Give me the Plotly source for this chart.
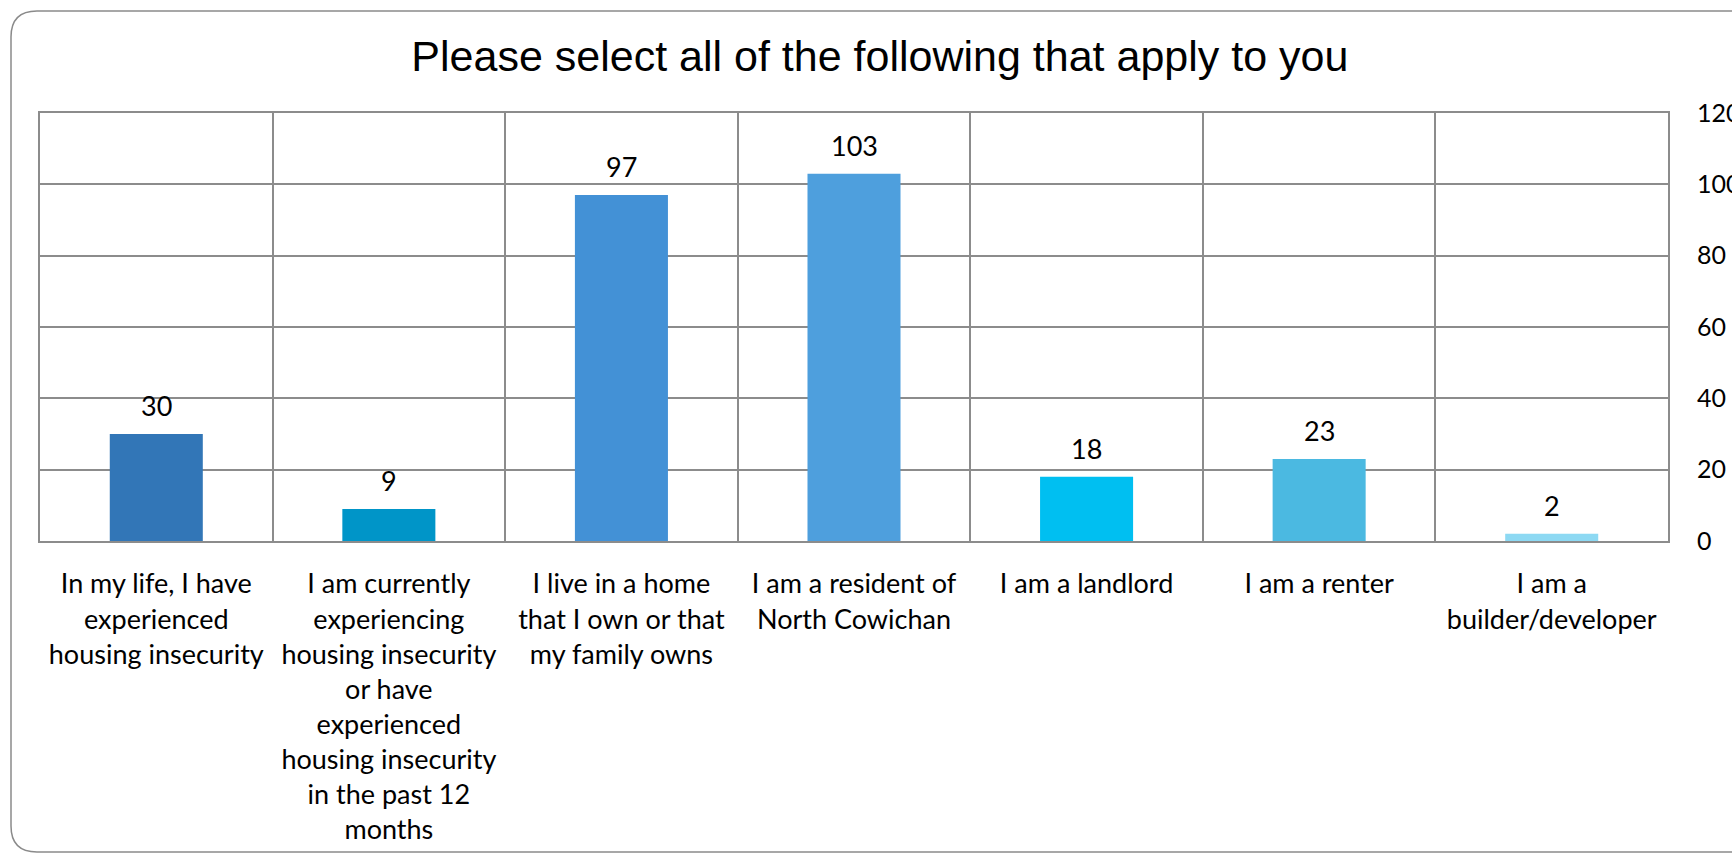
import plotly.graph_objects as go

categories = [
    "In my life, I have<br>experienced<br>housing insecurity",
    "I am currently<br>experiencing<br>housing insecurity<br>or have<br>experienced<br>housing insecurity<br>in the past 12<br>months",
    "I live in a home<br>that I own or that<br>my family owns",
    "I am a resident of<br>North Cowichan",
    "I am a landlord",
    "I am a renter",
    "I am a<br>builder/developer",
]
values = [30, 9, 97, 103, 18, 23, 2]
bar_colors = ["#3276B7", "#0095C8", "#4391D6", "#4E9FDD", "#00BFF1", "#4BB9E1", "#8DD9F3"]
y_ticks = [0, 20, 40, 60, 80, 100, 120]
title_text = "Please select all of the following that apply to you"

W, H = 1732, 855
ML, MR, MT, MB = 40, 64, 113, 314
PW, PH = W - ML - MR, H - MT - MB

def px(x):
    return (x - ML) / PW

def py(y):
    return (H - MB - y) / PH

grid = "#8C8C8C"

fig = go.Figure()
fig.add_trace(go.Bar(
    x=categories, y=values, marker=dict(color=bar_colors, line=dict(width=0)),
    width=0.4, hoverinfo="skip",
))

for c, v in zip(categories, values):
    fig.add_annotation(x=c, y=v, text=str(v), showarrow=False, yanchor="bottom",
                       yshift=10, font=dict(family="Lato", size=27, color="#000000"))

# rounded chart-area border
x0, y0, x1, y1, r = 11, 11, 1760, 852, 26
path = (f"M {px(x0)},{py(y0 + r)} Q {px(x0)},{py(y0)} {px(x0 + r)},{py(y0)} "
        f"L {px(x1)},{py(y0)} L {px(x1)},{py(y1)} L {px(x0 + r)},{py(y1)} "
        f"Q {px(x0)},{py(y1)} {px(x0)},{py(y1 - r)} Z")
fig.add_shape(type="path", path=path, xref="paper", yref="paper",
              line=dict(color="#8A8A8A", width=1.5), layer="below")

fig.update_layout(
    width=W, height=H,
    margin=dict(l=ML, r=MR, t=MT, b=MB, autoexpand=False),
    paper_bgcolor="white", plot_bgcolor="white",
    showlegend=False,
    bargap=0.6,
    title=dict(text=title_text, x=0.508, xref="container", xanchor="center",
               y=1 - 56 / H, yref="container", yanchor="middle",
               font=dict(family="Liberation Sans", size=43, color="#000000")),
    xaxis=dict(
        type="category", tickson="boundaries", showgrid=True, gridcolor=grid, gridwidth=2,
        showline=True, linecolor=grid, linewidth=2, mirror=True, ticks="",
        ticklabelstandoff=18, automargin=False,
        tickfont=dict(family="Lato", size=27, color="#000000"),
    ),
    yaxis=dict(
        side="right", range=[0, 120], tickvals=y_ticks, showgrid=True, gridcolor=grid,
        gridwidth=2, showline=True, linecolor=grid, linewidth=2, mirror=True, ticks="",
        zeroline=False, ticklabelstandoff=22, automargin=False,
        tickfont=dict(family="Lato", size=25, color="#000000"),
    ),
)

fig.write_html("out.html")
